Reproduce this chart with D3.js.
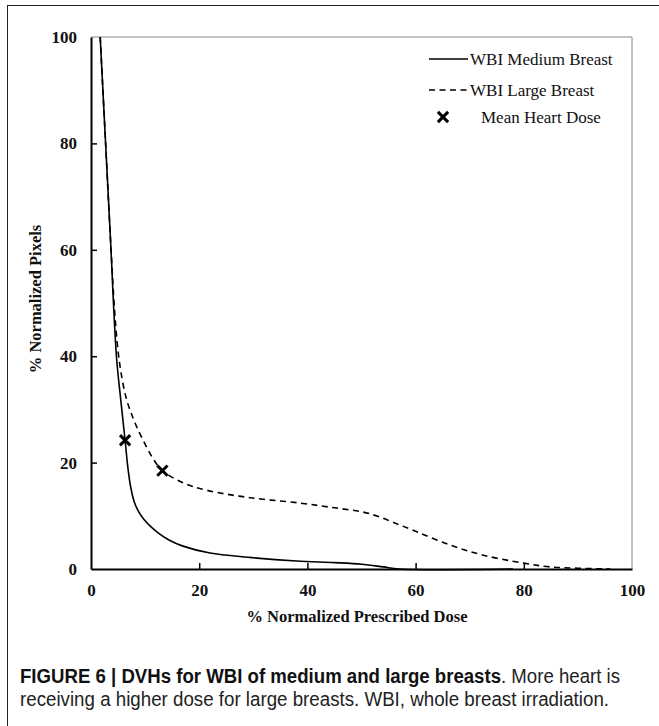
<!DOCTYPE html>
<html>
<head>
    <meta charset="utf-8">
    <style>
        body { margin: 0; background: #fff; }
        svg text { fill: #111; }
        .tick text { font: bold 17px "Liberation Serif", serif; }
        .axis-title { font: bold 16.5px "Liberation Serif", serif; }
        .legend text { font: 17px "Liberation Serif", serif; }
        .caption { font: 20px "Liberation Sans Narrow", "Liberation Sans", sans-serif; fill: #222; }
    </style>
</head>
<body>
    <svg width="659" height="726"></svg>

    <script src="https://cdnjs.cloudflare.com/ajax/libs/d3/7.8.5/d3.min.js"></script>

    <script>
        // dose (%) , pixels (%)
        var mediumDose = [1.7, 2.7, 3.6, 4.7, 5.5, 6.3, 6.8, 7.3, 8.0, 8.8, 9.8, 11, 12.4, 14.5, 17, 22, 29, 38, 45, 50, 54, 57, 78];
        var mediumPix  = [100, 80, 62, 40, 31.8, 24.2, 19.2, 15.6, 12.6, 10.8, 9.3, 8.0, 6.8, 5.4, 4.3, 3.0, 2.2, 1.5, 1.2, 0.9, 0.4, 0, 0];
        var largeDose = [1.7, 2.7, 3.6, 4.4, 5.0, 5.7, 6.6, 7.8, 9.1, 11.5, 13.2, 17, 21.4, 29.4, 38.6, 45, 50.3, 53, 55.8, 60.2, 66.4, 72.5, 80, 84.8, 90, 96];
        var largePix  = [100, 80, 62, 48, 41, 36, 31.8, 28.3, 25.3, 20.7, 18.5, 16.2, 14.8, 13.4, 12.4, 11.5, 10.7, 9.9, 8.8, 7, 4.5, 2.6, 1.1, 0.4, 0.15, 0];
        var meanDose = [6.3, 13.2];
        var meanPix  = [24.2, 18.5];
        var xTicks = [0, 20, 40, 60, 80, 100];
        var yTicks = [0, 20, 40, 60, 80, 100];
        var legendLabels = ["WBI Medium Breast", "WBI Large Breast", "Mean Heart Dose"];

        var svg = d3.select("svg");

        // figure frame
        svg.append("line").attr("x1", 7.5).attr("y1", 5).attr("x2", 7.5).attr("y2", 726).attr("stroke", "#222");
        svg.append("line").attr("x1", 7.5).attr("y1", 5.5).attr("x2", 659).attr("y2", 5.5).attr("stroke", "#222");

        var x = d3.scaleLinear().domain([0, 100]).range([91, 632]);
        var y = d3.scaleLinear().domain([0, 100]).range([569, 37]);

        // plot box (grey top/right)
        svg.append("path")
            .attr("d", "M" + x(0) + "," + y(100) + "H" + x(100) + "V" + y(0))
            .attr("fill", "none").attr("stroke", "#888").attr("stroke-width", 1);

        var xAxis = svg.append("g")
            .attr("transform", "translate(0," + y(0) + ")")
            .call(d3.axisBottom(x).tickValues(xTicks).tickSizeInner(-6).tickSizeOuter(0).tickPadding(15));
        var yAxis = svg.append("g")
            .attr("transform", "translate(" + x(0) + ",0)")
            .call(d3.axisLeft(y).tickValues(yTicks).tickSizeInner(-6).tickSizeOuter(0).tickPadding(14));
        [xAxis, yAxis].forEach(function(a) {
            a.select(".domain").attr("stroke", "#000").attr("stroke-width", 2);
            a.selectAll(".tick line").attr("stroke", "#000").attr("stroke-width", 1.5);
        });
        xAxis.selectAll(".tick line").filter(function(d) { return d === 0 || d === 100; }).remove();
        yAxis.selectAll(".tick line").filter(function(d) { return d === 0 || d === 100; }).remove();

        svg.append("text").attr("class", "axis-title")
            .attr("x", 357).attr("y", 622)
            .attr("text-anchor", "middle")
            .text("% Normalized Prescribed Dose");
        svg.append("text").attr("class", "axis-title")
            .attr("transform", "translate(41,299) rotate(-90)")
            .attr("text-anchor", "middle")
            .text("% Normalized Pixels");

        var line = d3.line()
            .x(function(d) { return x(d[0]); })
            .y(function(d) { return y(d[1]); })
            .curve(d3.curveCatmullRom.alpha(0.5));

        svg.append("path")
            .datum(d3.zip(mediumDose, mediumPix))
            .attr("d", line)
            .attr("fill", "none").attr("stroke", "#000").attr("stroke-width", 1.6);
        svg.append("path")
            .datum(d3.zip(largeDose, largePix))
            .attr("d", line)
            .attr("fill", "none").attr("stroke", "#000").attr("stroke-width", 1.6)
            .attr("stroke-dasharray", "6,4.5");

        var cross = d3.symbol().type(d3.symbolX).size(70);
        svg.selectAll(".mhd")
            .data(d3.zip(meanDose, meanPix))
            .join("path")
            .attr("class", "mhd")
            .attr("d", cross)
            .attr("transform", function(d) { return "translate(" + x(d[0]) + "," + y(d[1]) + ")"; })
            .attr("stroke", "#000").attr("stroke-width", 3);

        // legend
        var lg = svg.append("g").attr("class", "legend");
        var rows = [59, 90, 117];
        lg.append("line").attr("x1", 429).attr("x2", 468).attr("y1", rows[0]).attr("y2", rows[0])
            .attr("stroke", "#000").attr("stroke-width", 1.6);
        lg.append("line").attr("x1", 429).attr("x2", 468).attr("y1", rows[1]).attr("y2", rows[1])
            .attr("stroke", "#000").attr("stroke-width", 1.6).attr("stroke-dasharray", "6,4.5");
        lg.append("path").attr("d", cross).attr("transform", "translate(443," + rows[2] + ")")
            .attr("stroke", "#000").attr("stroke-width", 3);
        lg.selectAll("text")
            .data(legendLabels)
            .join("text")
            .attr("x", function(d, i) { return i === 2 ? 481 : 470; })
            .attr("y", function(d, i) { return rows[i] + 6; })
            .text(function(d) { return d; });

        // caption
        var cap1 = svg.append("text").attr("class", "caption").attr("x", 20).attr("y", 683)
            .attr("textLength", 600).attr("lengthAdjust", "spacingAndGlyphs");
        cap1.append("tspan").attr("font-weight", "bold").attr("fill", "#111")
            .text("FIGURE 6 | DVHs for WBI of medium and large breasts");
        cap1.append("tspan").text(". More heart is");
        svg.append("text").attr("class", "caption").attr("x", 20).attr("y", 706)
            .attr("textLength", 589).attr("lengthAdjust", "spacingAndGlyphs")
            .text("receiving a higher dose for large breasts. WBI, whole breast irradiation.");
    </script>
</body>
</html>
